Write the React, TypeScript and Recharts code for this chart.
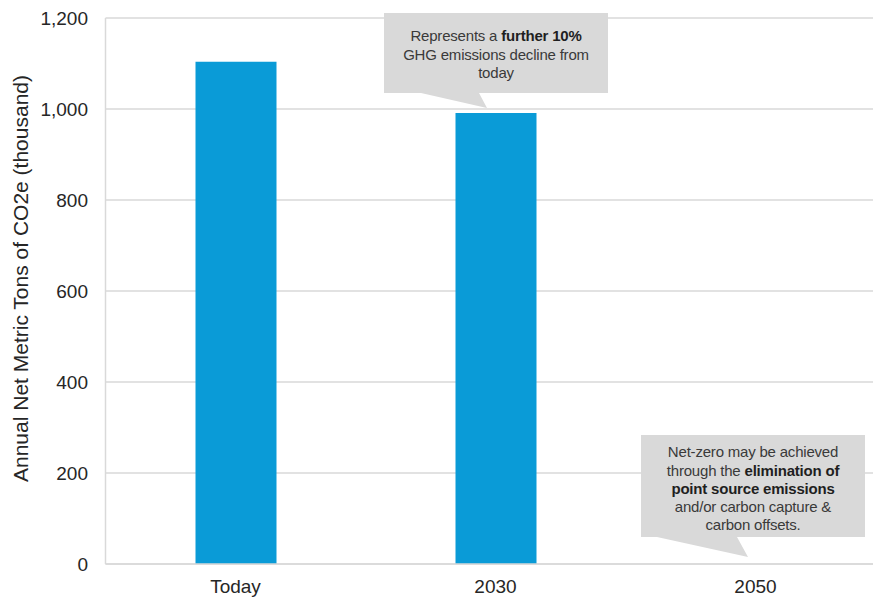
import React from 'react';
import { BarChart, Bar, XAxis, YAxis, CartesianGrid, ReferenceDot } from 'recharts';

// Annual net emissions, thousand metric tons CO2e
const periods = ['Today', '2030', '2050'];
const netEmissions = [1104, 991, 0];
const yTicks = [0, 200, 400, 600, 800, 1000, 1200];

const data = periods.map((period, i) => ({ period, value: netEmissions[i] }));

const FONT = '"Liberation Sans", Arial, Helvetica, sans-serif';
const GRID = '#D9D9D9';
const BAR = '#0A9BD7';
const CALLOUT_FILL = '#D9D9D9';
const CALLOUT_TEXT = '#3A3A3A';

type Run = { text: string; bold?: boolean };

type CalloutSpec = {
  period: string;
  value: number;
  tipDx: number;
  tipDy: number;
  box: { l: number; t: number; r: number; b: number };
  base: [number, number];
  textDx: number;
  baselines: number[];
  lines: Run[][];
};

const callouts: CalloutSpec[] = [
  {
    period: '2030',
    value: netEmissions[1],
    tipDx: -8.5,
    tipDy: -5,
    box: { l: -103, t: -95, r: 121, b: -15 },
    base: [-66, -8],
    textDx: 9,
    baselines: [-67, -48.6, -30.3],
    lines: [
      [{ text: 'Represents a ' }, { text: 'further 10%', bold: true }],
      [{ text: 'GHG emissions decline from' }],
      [{ text: 'today' }],
    ],
  },
  {
    period: '2050',
    value: netEmissions[2],
    tipDx: -7.5,
    tipDy: -7,
    box: { l: -107, t: -122, r: 117, b: -20 },
    base: [-91, -11],
    textDx: 5,
    baselines: [-99.6, -81.4, -63.2, -45, -26.8],
    lines: [
      [{ text: 'Net-zero may be achieved' }],
      [{ text: 'through the ' }, { text: 'elimination of', bold: true }],
      [{ text: 'point source emissions', bold: true }],
      [{ text: 'and/or carbon capture &' }],
      [{ text: 'carbon offsets.' }],
    ],
  },
];

function makeCalloutShape(spec: CalloutSpec) {
  return (props: any) => {
    const { cx, cy } = props;
    if (cx == null || cy == null) return <g />;
    const tx = cx + spec.tipDx;
    const ty = cy + spec.tipDy;
    const { l, t, r, b } = spec.box;
    const [b1, b2] = spec.base;
    const d = `M${l},${t} H${r} V${b} H${b2} L0,0 L${b1},${b} H${l} Z`;
    return (
      <g transform={`translate(${tx},${ty})`}>
        <path d={d} fill={CALLOUT_FILL} stroke="none" />
        {spec.lines.map((runs, i) => (
          <text
            key={i}
            x={spec.textDx}
            y={spec.baselines[i]}
            textAnchor="middle"
            fontFamily={FONT}
            fontSize={15}
            fill={CALLOUT_TEXT}
            letterSpacing={-0.2}
          >
            {runs.map((run, j) => (
              <tspan key={j} fontWeight={run.bold ? 'bold' : 'normal'} fill={run.bold ? '#1F1F1F' : CALLOUT_TEXT}>
                {run.text}
              </tspan>
            ))}
          </text>
        ))}
      </g>
    );
  };
}

const formatThousands = (v: number) => v.toLocaleString('en-US');

const YTitle = () => (
  <text
    x={27.5}
    y={278.5}
    transform="rotate(-90, 27.5, 278.5)"
    textAnchor="middle"
    fontFamily={FONT}
    fontSize={21}
    fill="#262626"
  >
    Annual Net Metric Tons of CO2e (thousand)
  </text>
);

export default function App() {
  return (
    <div
      style={{
        position: 'absolute',
        left: 0,
        top: 0,
        width: 873,
        height: 599,
        overflow: 'hidden',
        background: '#fff',
      }}
    >
      <BarChart
        width={900}
        height={599}
        data={data}
        margin={{ top: 18, right: 14.5, bottom: 0, left: 0 }}
        barCategoryGap={0}
      >
        <CartesianGrid vertical={false} stroke={GRID} strokeWidth={1.5} />
        <XAxis
          dataKey="period"
          height={35}
          tickLine={false}
          tickSize={0}
          tickMargin={16}
          axisLine={{ stroke: GRID, strokeWidth: 1.5 }}
          tick={{ fontFamily: FONT, fontSize: 19, fill: '#262626' }}
          interval={0}
        />
        <YAxis
          width={105.5}
          domain={[0, 1200]}
          ticks={yTicks}
          tickFormatter={formatThousands}
          tickLine={false}
          tickSize={0}
          tickMargin={17.5}
          axisLine={{ stroke: GRID, strokeWidth: 1.5 }}
          tick={{ fontFamily: FONT, fontSize: 19, fill: '#262626' }}
          interval={0}
          label={<YTitle />}
        />
        <Bar dataKey="value" fill={BAR} barSize={81} isAnimationActive={false} />
        {callouts.map((spec) => (
          <ReferenceDot
            key={spec.period}
            x={spec.period}
            y={spec.value}
            r={0}
            shape={makeCalloutShape(spec)}
          />
        ))}
      </BarChart>
    </div>
  );
}
